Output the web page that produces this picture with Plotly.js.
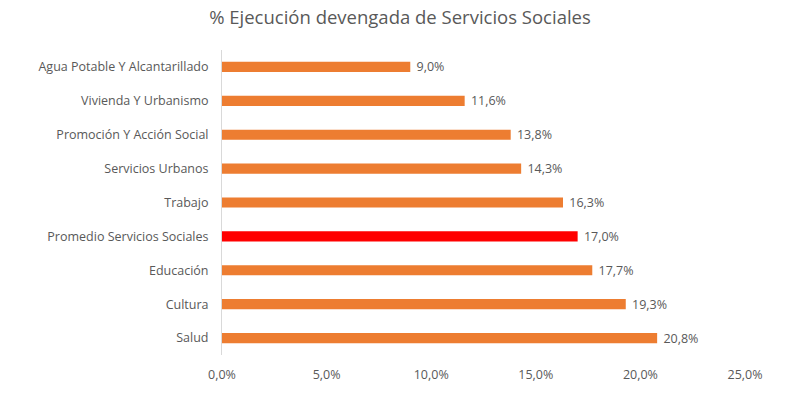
<!DOCTYPE html>
<html>
<head>
<meta charset="utf-8">
<script src="https://cdn.plot.ly/plotly-3.0.1.min.js"></script>
<style>html,body{margin:0;padding:0;background:#fff;}#chart{width:800px;height:396px;}</style>
</head>
<body>
<div id="chart"></div>
<script>
const categories = ["Agua Potable Y Alcantarillado","Vivienda Y Urbanismo","Promoción Y Acción Social","Servicios Urbanos","Trabajo","Promedio Servicios Sociales","Educación","Cultura","Salud"];
const values = [0.090,0.116,0.138,0.143,0.163,0.170,0.177,0.193,0.208];
const highlight = "Promedio Servicios Sociales";
const tickVals = [0,0.05,0.10,0.15,0.20,0.25];

const colors = categories.map(c => c === highlight ? "#FF0000" : "#ED7D31");

const trace = {
  type: "bar",
  orientation: "h",
  y: categories,
  x: values,
  marker: {color: colors},
  width: 0.3,
  texttemplate: "\u00a0%{x:.1%}",
  textposition: "outside",
  constraintext: "none",
  cliponaxis: false,
  textfont: {family: "Open Sans, sans-serif", size: 12.5, color: "#595959"},
  hoverinfo: "none"
};

const layout = {
  width: 800, height: 396,
  separators: ",.",
  margin: {l: 222, r: 55, t: 50, b: 41},
  paper_bgcolor: "#fff", plot_bgcolor: "#fff",
  title: {text: "% Ejecución devengada de Servicios Sociales", x: 0.5, xanchor: "center", y: 0.955, yanchor: "middle",
          font: {family: "Open Sans, sans-serif", size: 18.5, color: "#595959"}},
  font: {family: "Open Sans, sans-serif", size: 12, color: "#595959"},
  xaxis: {range: [0, 0.25], tickvals: tickVals, tickformat: ".1%", showgrid: false, zeroline: false,
          showline: false, ticks: "", ticklabelstandoff: 10, tickfont: {size: 12.5, color: "#595959"}, fixedrange: true},
  yaxis: {autorange: "reversed", showgrid: false, showline: true, linecolor: "#d9d9d9", linewidth: 1,
          ticks: "", ticklabelstandoff: 10, tickfont: {size: 12.5, color: "#595959"}, automargin: false, fixedrange: true},
  bargap: 0.7,
  showlegend: false
};

Plotly.newPlot("chart", [trace], layout, {displayModeBar: false, staticPlot: true});
</script>
</body>
</html>
